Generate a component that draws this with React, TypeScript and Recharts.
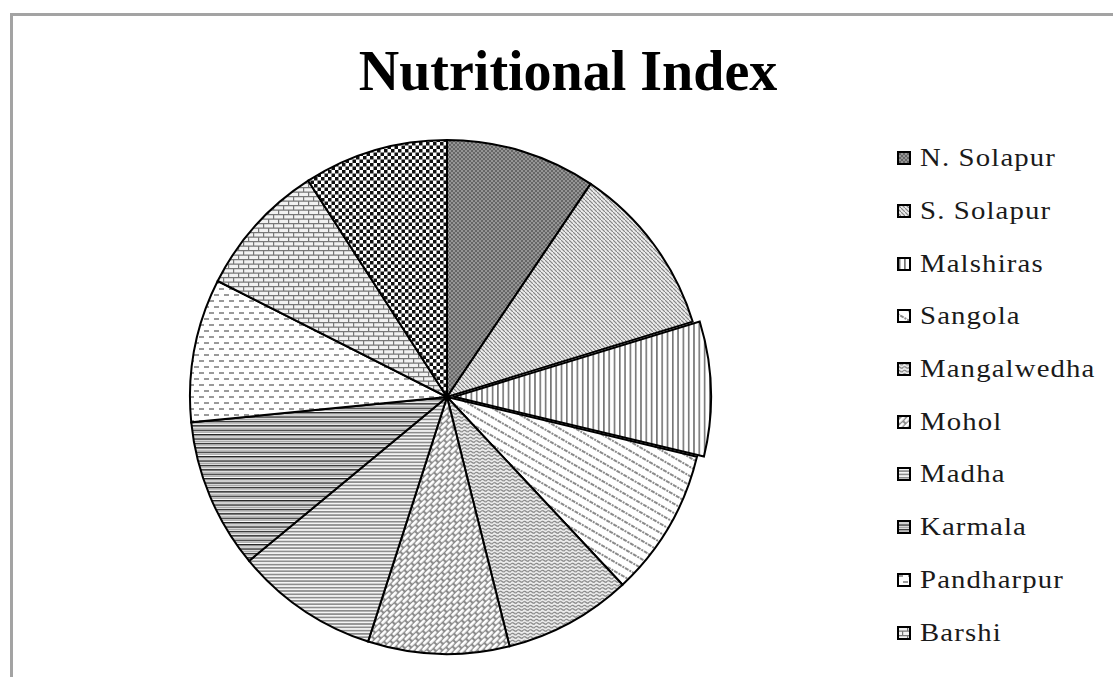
import React from "react";
import { PieChart, Pie, Cell, Legend } from "recharts";

// Taluka names, clockwise from 12 o'clock
const talukas = [
  "N. Solapur",
  "S. Solapur",
  "Malshiras",
  "Sangola",
  "Mangalwedha",
  "Mohol",
  "Madha",
  "Karmala",
  "Pandharpur",
  "Barshi",
  "Akkalkot",
];
const indexValues = [34, 39, 30.5, 33.5, 29, 32, 32.5, 34, 32.5, 30.5, 32.7];
const explodedSlice = "Malshiras";
// the reference crop shows only the first ten legend rows
const legendRows = talukas.slice(0, 10);

const data = talukas.map((name, i) => ({ name, value: indexValues[i] }));

const CX = 434;
const CY = 381;
const R = 257;

const Patterns = () => (
  <svg width="0" height="0" style={{ position: "absolute" }}>
    <defs>
      <pattern id="p0" width="4" height="4" patternUnits="userSpaceOnUse">
        <rect width="4" height="4" fill="#959595" />
        <rect width="2" height="2" fill="#666" />
        <rect x="2" y="2" width="2" height="2" fill="#666" />
      </pattern>
      <pattern id="p1" width="4" height="4" patternUnits="userSpaceOnUse">
        <rect width="4" height="4" fill="#ececec" />
        <path d="M-1,-1 l2,2 M0,0 l4,4 M3,3 l2,2" stroke="#858585" strokeWidth="1.2" />
      </pattern>
      <pattern id="p2" width="5.3" height="4" patternUnits="userSpaceOnUse">
        <rect width="5.3" height="4" fill="#fff" />
        <line x1="2.6" y1="0" x2="2.6" y2="4" stroke="#444" strokeWidth="1.2" />
      </pattern>
      <pattern id="p3" width="8" height="8" patternUnits="userSpaceOnUse" patternTransform="rotate(30)">
        <rect width="8" height="8" fill="#fff" />
        <line x1="0" y1="4" x2="8" y2="4" stroke="#8a8a8a" strokeWidth="2.2" strokeDasharray="2 1" />
      </pattern>
      <pattern id="p4" width="6" height="3.5" patternUnits="userSpaceOnUse">
        <rect width="6" height="3.5" fill="#eeeeee" />
        <path d="M0,2 Q1.5,0.5 3,2 T6,2" stroke="#777" strokeWidth="1.1" fill="none" />
      </pattern>
      <pattern id="p5" width="10" height="8" patternUnits="userSpaceOnUse" patternTransform="rotate(-45)">
        <rect width="10" height="8" fill="#8c8c8c" />
        <rect x="1" y="1" width="8" height="2.8" rx="1" fill="#fff" />
        <rect x="-4" y="5" width="8" height="2.8" rx="1" fill="#fff" />
        <rect x="6" y="5" width="8" height="2.8" rx="1" fill="#fff" />
      </pattern>
      <pattern id="p6" width="4" height="3.3" patternUnits="userSpaceOnUse">
        <rect width="4" height="3.3" fill="#f4f4f4" />
        <rect width="4" height="1.6" fill="#8a8a8a" />
      </pattern>
      <pattern id="p7" width="4" height="4.4" patternUnits="userSpaceOnUse">
        <rect width="4" height="4.4" fill="#fff" />
        <rect width="4" height="1.4" fill="#222" />
        <rect y="2.4" width="4" height="1" fill="#999" />
      </pattern>
      <pattern id="p8" width="10" height="12" patternUnits="userSpaceOnUse">
        <rect width="10" height="12" fill="#fff" />
        <rect x="1" y="2" width="5" height="2" fill="#9a9a9a" />
        <rect x="6" y="8" width="5" height="2" fill="#9a9a9a" />
        <rect x="-4" y="8" width="5" height="2" fill="#9a9a9a" />
      </pattern>
      <pattern id="p9" width="10" height="9" patternUnits="userSpaceOnUse">
        <rect width="10" height="9" fill="#f2f2f2" />
        <path d="M0,0.6 H10 M0,5.1 H10 M0.6,0.6 V5.1 M5.6,5.1 V9" stroke="#777" strokeWidth="1.2" />
      </pattern>
      <pattern id="p10" width="7" height="7" patternUnits="userSpaceOnUse">
        <rect width="7" height="7" fill="#fff" />
        <rect width="3.5" height="3.5" fill="#111" />
        <rect x="3.5" y="3.5" width="3.5" height="3.5" fill="#111" />
      </pattern>
    </defs>
  </svg>
);

const renderLegend = () => (
  <div>
    {legendRows.map((name, i) => (
      <div
        key={name}
        style={{ display: "flex", alignItems: "center", height: 52.7 }}
      >
        <svg width="14" height="14" style={{ marginRight: 9, flexShrink: 0 }}>
          <rect x="1" y="1" width="12" height="12" fill={`url(#p${i})`} stroke="#000" strokeWidth="2" />
        </svg>
        <span
          style={{
            fontFamily: "'Liberation Serif', serif",
            fontSize: 25,
            letterSpacing: 1,
            color: "#1a1a1a",
            whiteSpace: "nowrap",
            display: "inline-block",
            transform: "scaleX(1.15)",
            transformOrigin: "left center",
          }}
        >
          {name}
        </span>
      </div>
    ))}
  </div>
);

export default function App() {
  return (
    <div
      style={{
        position: "fixed",
        left: 0,
        top: 0,
        width: 1113,
        height: 677,
        overflow: "hidden",
        background: "#fff",
      }}
    >
      <Patterns />
      <div
        style={{
          position: "absolute",
          left: 10,
          top: 13,
          width: 1110,
          height: 720,
          border: "3px solid #a3a3a3",
          background: "#fff",
        }}
      >
        <div
          style={{
            position: "absolute",
            left: 0,
            top: 27,
            width: 1110,
            textAlign: "center",
            fontFamily: "'Liberation Serif', serif",
            fontWeight: "bold",
            fontSize: 56,
            lineHeight: "56px",
            color: "#000",
          }}
        >
          Nutritional Index
        </div>
        <PieChart
          width={1110}
          height={720}
          margin={{ top: 0, right: 0, bottom: 0, left: 0 }}
        >
          <Pie
            data={data}
            dataKey="value"
            nameKey="name"
            cx={CX}
            cy={CY}
            outerRadius={R}
            startAngle={90}
            endAngle={-270}
            stroke="#000"
            strokeWidth={2}
            isAnimationActive={false}
            legendType="none"
          >
            {data.map((d, i) => (
              <Cell
                key={`base-${i}`}
                fill={d.name === explodedSlice ? "none" : `url(#p${i})`}
                stroke={d.name === explodedSlice ? "none" : "#000"}
              />
            ))}
          </Pie>
          <Pie
            data={data}
            dataKey="value"
            nameKey="name"
            cx={CX + 7}
            cy={CY - 0.2}
            outerRadius={R}
            startAngle={90}
            endAngle={-270}
            stroke="#000"
            strokeWidth={2}
            isAnimationActive={false}
            legendType="none"
          >
            {data.map((d, i) => (
              <Cell
                key={`exp-${i}`}
                fill={d.name === explodedSlice ? `url(#p${i})` : "none"}
                stroke={d.name === explodedSlice ? "#000" : "none"}
              />
            ))}
          </Pie>
          <Legend
            layout="vertical"
            align="right"
            verticalAlign="top"
            content={renderLegend}
            wrapperStyle={{ left: 884, top: 116, width: 220, right: "auto" }}
          />
        </PieChart>
      </div>
    </div>
  );
}
